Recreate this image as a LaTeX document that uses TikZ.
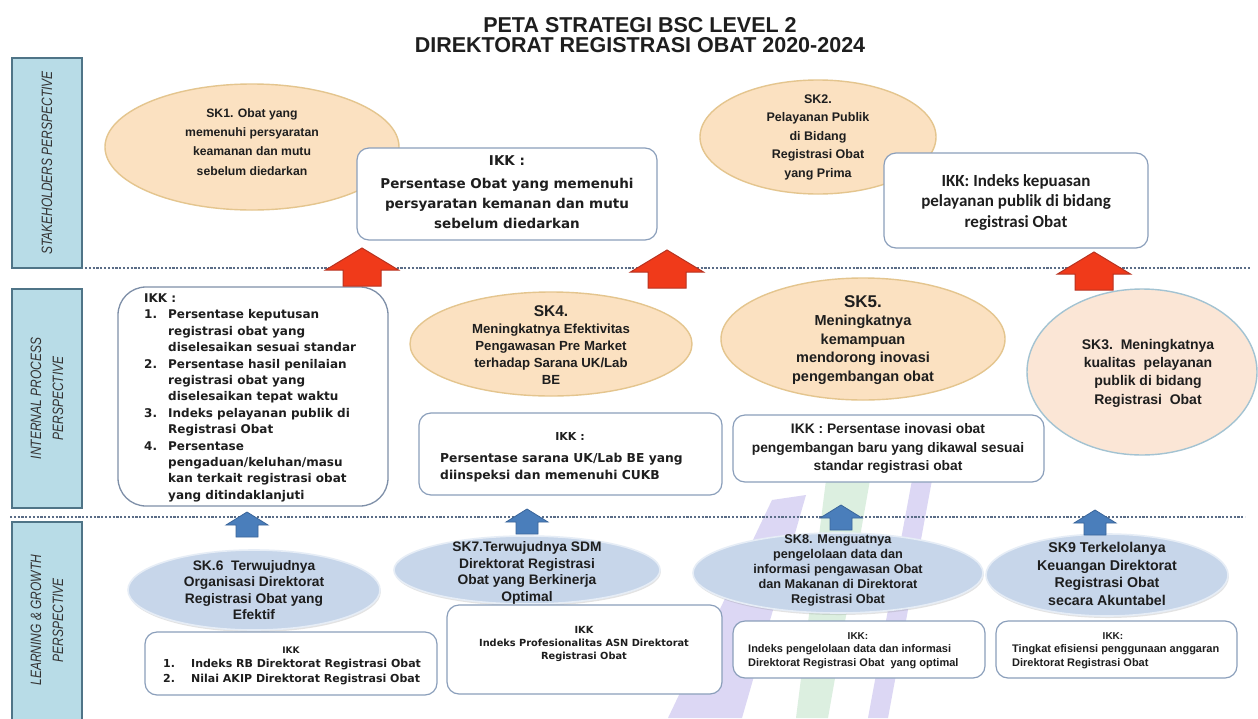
\documentclass[tikz,border=0pt]{standalone}
\usepackage{fontspec}
\setmainfont{Liberation Sans}
\newfontfamily\dejafont{DejaVu Sans}
\newfontfamily\calfont{Carlito}
\newfontfamily\sidefont{Liberation Sans}[FakeStretch=0.8]
\usetikzlibrary{shapes.geometric,shadows}

\newcommand{\setfs}[2]{\fontsize{#1}{#2}\selectfont}

\definecolor{sidefill}{HTML}{B8DCE7}
\definecolor{sideedge}{HTML}{4F7487}
\definecolor{peachfill}{HTML}{FBE1C1}
\definecolor{peachedge}{HTML}{E4C58E}
\definecolor{sk3fill}{HTML}{FBE6D6}
\definecolor{sk3edge}{HTML}{A3C3D2}
\definecolor{bluefill}{HTML}{C7D6EA}
\definecolor{blueedge}{HTML}{E6EDF6}
\definecolor{ikkedge}{HTML}{8B9FBB}
\definecolor{listedge}{HTML}{7E8FA8}
\definecolor{redfill}{HTML}{F03A1A}
\definecolor{rededge}{HTML}{B8321F}
\definecolor{bluearrfill}{HTML}{4A7EBB}
\definecolor{bluearredge}{HTML}{39659A}
\definecolor{dotcol}{HTML}{5A6C86}
\definecolor{wmpurple}{HTML}{DCD7F4}
\definecolor{wmgreen}{HTML}{DCEFE0}
\definecolor{inkcol}{HTML}{1E1E1E}

\tikzset{
  every node/.style={text=inkcol},
  titletext/.style={anchor=base, font=\bfseries\setfs{21.5}{24}},
  sidebox/.style={rectangle, draw=sideedge, fill=sidefill, line width=2pt,
    minimum width=70pt, inner sep=0pt},
  sidetext/.style={rotate=90, align=center, text=black!80,
    font=\sidefont\itshape\setfs{15}{22}},
  dotline/.style={dotcol, line width=2.5pt, dash pattern=on 2.2pt off 1.6pt},
  peach/.style={ellipse, draw=peachedge, fill=peachfill, line width=1.4pt, inner sep=0pt},
  peachblue/.style={ellipse, draw=sk3edge, fill=sk3fill, line width=1.4pt, inner sep=0pt},
  bluell/.style={ellipse, draw=blueedge, fill=bluefill, line width=1.6pt, inner sep=0pt,
    drop shadow={opacity=0.22, shadow xshift=0.8pt, shadow yshift=-2pt}},
  ikkbox/.style={rectangle, rounded corners=12pt, draw=ikkedge, fill=white,
    line width=1.2pt, inner sep=0pt},
  listbox/.style={rectangle, rounded corners=28pt, draw=listedge, fill=white,
    line width=1.3pt, inner sep=0pt},
  elltext/.style={align=center, inner sep=0pt, font=\bfseries},
  ikktext/.style={align=center, inner sep=0pt},
  redarr/.style={fill=redfill, draw=rededge, line width=1pt, line join=miter},
  bluearr/.style={fill=bluearrfill, draw=bluearredge, line width=0.8pt, line join=miter},
  pics/redup/.style={code={
    \draw[redarr] (0,0) -- (36.5,22) -- (19,22) -- (19,38) -- (-19,38)
      -- (-19,22) -- (-36.5,22) -- cycle;}},
  pics/blueup/.style={code={
    \draw[bluearr] (0,0) -- (21,13) -- (11,13) -- (11,25) -- (-11,25)
      -- (-11,13) -- (-21,13) -- cycle;}},
}

\begin{document}
\begin{tikzpicture}[x=1pt,y=-1pt]
\useasboundingbox (0,0) rectangle (1258,718);
\fill[white] (0,0) rectangle (1258,718);

% faint logo stripes in the lower middle
\fill[wmpurple] (772,500) -- (806,495) -- (742,718) -- (668,718) -- cycle;
\fill[wmgreen] (826,480) -- (870,480) -- (828,718) -- (796,718) -- cycle;
\fill[wmpurple] (912,480) -- (932,480) -- (888,718) -- (868,718) -- cycle;

% title
\node[titletext] (title1) at (640,32) {PETA STRATEGI BSC LEVEL 2};
\node[titletext] (title2) at (640,52) {DIREKTORAT REGISTRASI OBAT 2020-2024};

% perspective labels
\node[sidebox, minimum height=210pt] (persp1) at (47,163) {};
\node[sidetext] (persp1t) at (persp1.center) {STAKEHOLDERS PERSPECTIVE};
\node[sidebox, minimum height=219pt] (persp2) at (47,398.5) {};
\node[sidetext] (persp2t) at (persp2.center) {INTERNAL PROCESS\\PERSPECTIVE};
\node[sidebox, minimum height=202pt] (persp3) at (47,623) {};
\node[sidetext] (persp3t) at (47,620) {LEARNING \& GROWTH\\PERSPECTIVE};

% dotted separators
\coordinate (sepAa) at (85,268);
\coordinate (sepAb) at (1250,268);
\coordinate (sepBa) at (10,517);
\coordinate (sepBb) at (1245,517);
\draw[dotline] (sepAa) -- (sepAb);
\draw[dotline] (sepBa) -- (sepBb);

% ---- stakeholders perspective
\node[peach, minimum width=294pt, minimum height=126pt] (sk1) at (252,147) {};
\node[elltext, font=\bfseries\setfs{12.2}{19.2}] (sk1t) at (252,142)
  {SK1. Obat yang\\memenuhi persyaratan\\keamanan dan mutu\\sebelum diedarkan};
\node[ikkbox, minimum width=300pt, minimum height=92pt] (ikk1) at (507,194) {};
\node[ikktext, font=\dejafont\bfseries\setfs{13.5}{20}] (ikk1t) at (507,192)
  {IKK :\\[3pt]Persentase Obat yang memenuhi\\persyaratan kemanan dan mutu\\sebelum diedarkan};

\node[peach, minimum width=236pt, minimum height=114pt] (sk2) at (818,137) {};
\node[elltext, font=\bfseries\setfs{12.5}{18.5}] (sk2t) at (818,137)
  {SK2.\\Pelayanan Publik\\di Bidang\\Registrasi Obat\\yang Prima};
\node[ikkbox, minimum width=264pt, minimum height=95pt] (ikk2) at (1016,200.5) {};
\node[ikktext, font=\calfont\bfseries\setfs{17}{20.5}] (ikk2t) at (1016,202)
  {IKK: Indeks kepuasan\\pelayanan publik di bidang\\registrasi Obat};

% ---- internal process perspective
\node[listbox, minimum width=270pt, minimum height=219pt] (ikkl) at (253,396.5) {};
\node[anchor=north west, align=left, inner sep=0pt,
      font=\dejafont\bfseries\setfs{12}{16.4}] (ikklt) at (144,293.5)
  {IKK :\\
   \makebox[24pt][l]{1.}Persentase keputusan\\
   \hspace*{24pt}registrasi obat yang\\
   \hspace*{24pt}diselesaikan sesuai standar\\
   \makebox[24pt][l]{2.}Persentase hasil penilaian\\
   \hspace*{24pt}registrasi obat yang\\
   \hspace*{24pt}diselesaikan tepat waktu\\
   \makebox[24pt][l]{3.}Indeks pelayanan publik di\\
   \hspace*{24pt}Registrasi Obat\\
   \makebox[24pt][l]{4.}Persentase\\
   \hspace*{24pt}pengaduan/keluhan/masu\\
   \hspace*{24pt}kan terkait registrasi obat\\
   \hspace*{24pt}yang ditindaklanjuti};

\node[peach, minimum width=282pt, minimum height=104pt] (sk4) at (551,344) {};
\node[elltext, font=\bfseries\setfs{13.2}{17}] (sk4t) at (551,345)
  {{\setfs{15.5}{17}SK4.}\\Meningkatnya Efektivitas\\Pengawasan Pre Market\\terhadap Sarana UK/Lab\\BE};
\node[ikkbox, minimum width=303pt, minimum height=82pt] (ikk4) at (570.5,454) {};
\node[ikktext, font=\dejafont\bfseries\setfs{11}{14}] (ikk4h) at (570,436) {IKK :};
\node[anchor=west, align=left, inner sep=0pt, font=\dejafont\bfseries\setfs{12.3}{17}]
  (ikk4t) at (440,467.5) {Persentase sarana UK/Lab BE yang\\diinspeksi dan memenuhi CUKB};

\node[peach, minimum width=284pt, minimum height=122pt] (sk5) at (863,339) {};
\node[elltext, font=\bfseries\setfs{14.5}{18.5}] (sk5t) at (863,340)
  {{\setfs{17}{18.5}SK5.}\\Meningkatnya\\kemampuan\\mendorong inovasi\\pengembangan obat};
\node[ikkbox, minimum width=311pt, minimum height=67pt] (ikk5) at (888.5,448.5) {};
\node[ikktext, font=\bfseries\setfs{13.8}{18.5}] (ikk5t) at (888,448.5)
  {IKK : Persentase inovasi obat\\pengembangan baru yang dikawal sesuai\\standar registrasi obat};

\node[peachblue, minimum width=230pt, minimum height=166pt] (sk3) at (1142,372) {};
\node[elltext, font=\bfseries\setfs{14}{18.3}] (sk3t) at (1148,373)
  {SK3.\ \ Meningkatnya\\kualitas\ \ pelayanan\\publik di bidang\\Registrasi\ \ Obat};

% ---- learning & growth perspective
\node[bluell, minimum width=252pt, minimum height=80pt] (sk6) at (254,590) {};
\node[elltext, font=\bfseries\setfs{13.8}{16.5}] (sk6t) at (254,590)
  {SK.6\ \ Terwujudnya\\Organisasi Direktorat\\Registrasi Obat yang\\Efektif};
\node[ikkbox, minimum width=292pt, minimum height=63pt] (ikk6) at (291,663.5) {};
\node[ikktext, font=\dejafont\bfseries\setfs{9}{12}] (ikk6h) at (291,650) {IKK};
\node[anchor=west, align=left, inner sep=0pt, font=\dejafont\bfseries\setfs{11}{15}]
  (ikk6t) at (163,671.5)
  {\makebox[28pt][l]{1.}Indeks RB Direktorat Registrasi Obat\\
   \makebox[28pt][l]{2.}Nilai AKIP Direktorat Registrasi Obat};

\node[bluell, minimum width=266pt, minimum height=68pt] (sk7) at (527,570) {};
\node[elltext, font=\bfseries\setfs{13.8}{16.7}] (sk7t) at (527,573)
  {SK7.Terwujudnya SDM\\Direktorat Registrasi\\Obat yang Berkinerja\\Optimal};
\node[ikkbox, minimum width=275pt, minimum height=89pt] (ikk7) at (584.5,649.5) {};
\node[ikktext, font=\dejafont\bfseries\setfs{9.8}{13}] (ikk7t) at (584,644)
  {IKK\\Indeks Profesionalitas ASN Direktorat\\Registrasi Obat};

\node[bluell, minimum width=290pt, minimum height=80pt] (sk8) at (838,573) {};
\node[elltext, font=\bfseries\setfs{12.7}{15}] (sk8t) at (838,570)
  {SK8. Menguatnya\\pengelolaan data dan\\informasi pengawasan Obat\\dan Makanan di Direktorat\\Registrasi Obat};
\node[ikkbox, minimum width=252pt, minimum height=57pt] (ikk8) at (859,649.5) {};
\node[ikktext, font=\bfseries\setfs{10}{13}] (ikk8h) at (858,636) {IKK:};
\node[anchor=west, align=left, inner sep=0pt, font=\bfseries\setfs{11}{14}]
  (ikk8t) at (748,656.5)
  {Indeks pengelolaan data dan informasi\\Direktorat Registrasi Obat\ \ yang optimal};

\node[bluell, minimum width=242pt, minimum height=82pt] (sk9) at (1107,575) {};
\node[elltext, font=\bfseries\setfs{14.2}{17.5}] (sk9t) at (1107,574)
  {SK9 Terkelolanya\\Keuangan Direktorat\\Registrasi Obat\\secara Akuntabel};
\node[ikkbox, minimum width=241pt, minimum height=57pt] (ikk9) at (1116.5,649.5) {};
\node[ikktext, font=\bfseries\setfs{10}{13}] (ikk9h) at (1113,636) {IKK:};
\node[anchor=west, align=left, inner sep=0pt, font=\bfseries\setfs{11}{14}]
  (ikk9t) at (1012,656.5)
  {Tingkat efisiensi penggunaan anggaran\\Direktorat Registrasi Obat};

% ---- block arrows between perspectives
\pic at (362,248) {redup};
\pic at (667,250) {redup};
\pic at (1094,252) {redup};
\pic at (247,512) {blueup};
\pic at (527,509) {blueup};
\pic at (841,505) {blueup};
\pic at (1095,510) {blueup};
\end{tikzpicture}
\end{document}
